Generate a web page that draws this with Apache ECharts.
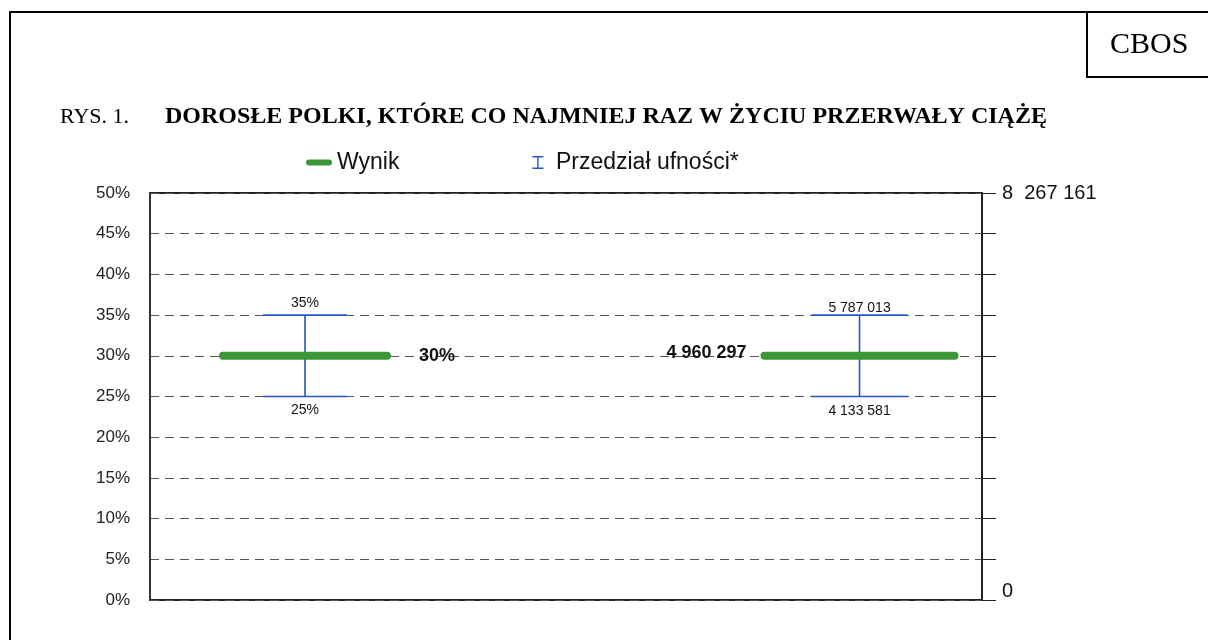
<!DOCTYPE html>
<html>
<head>
<meta charset="utf-8">
<script src="https://cdn.jsdelivr.net/npm/echarts@6/dist/echarts.min.js"></script>
<style>
html,body{margin:0;padding:0;background:#fff;}
#chart{width:1208px;height:640px;}
</style>
</head>
<body>
<div id="chart"></div>
<script>
// ---- DATA ----
const categories = ['Odsetek', 'Liczba'];
const results = [30, 4960297];
const lowerBounds = [25, 4133581];
const upperBounds = [35, 5787013];
const leftAxisMax = 50;
const leftAxisStep = 5;
const rightAxisMax = 8267161;
const rightTickLabels = ['0', '8  267 161'];
const legendNames = ['Wynik', 'Przedział ufności*'];
const titlePrefix = 'RYS. 1.';
const titleText = 'DOROSŁE POLKI, KTÓRE CO NAJMNIEJ RAZ W ŻYCIU PRZERWAŁY CIĄŻĘ';
const brand = 'CBOS';

// ---- LAYOUT / STYLE ----
const L = {
  centers: [0.1863, 0.8528],
  lineHalf: [82, 95],
  capHalf: [42, 48],
  green: '#3c9739',
  blue: '#2456c6',
  sans: '"Liberation Sans", Arial, sans-serif',
  serif: '"Liberation Serif", "Times New Roman", serif'
};

function fmtNum(n) { return String(n).replace(/\B(?=(\d{3})+(?!\d))/g, ' '); }
function fmtVal(i, v) { return i === 0 ? v + '%' : fmtNum(v); }

function resultSeries(i) {
  return {
    type: 'custom', name: legendNames[0], xAxisIndex: 0, yAxisIndex: i, z: 5,
    itemStyle: { color: L.green },
    data: [[categories[i], results[i]]],
    renderItem: function (params, api) {
      const cs = params.coordSys;
      const cx = cs.x + L.centers[i] * cs.width;
      const y = api.coord([api.value(0), api.value(1)])[1];
      const h = L.lineHalf[i];
      const label = fmtVal(i, results[i]);
      return {
        type: 'group', children: [
          { type: 'line', shape: { x1: cx - h, y1: y, x2: cx + h, y2: y },
            style: { stroke: L.green, lineWidth: 8, lineCap: 'round' } },
          { type: 'text', x: i === 0 ? cx + h + 32 : cx - h - 18, y: i === 0 ? y : y - 3,
            style: { text: label, font: 'bold 18px ' + L.sans, fill: '#111',
              align: i === 0 ? 'left' : 'right', verticalAlign: 'middle' } }
        ]
      };
    }
  };
}

function errorSeries(i) {
  return {
    type: 'custom', name: legendNames[1], xAxisIndex: 0, yAxisIndex: i, z: 4,
    itemStyle: { color: L.blue },
    data: [[categories[i], lowerBounds[i], upperBounds[i]]],
    renderItem: function (params, api) {
      const cs = params.coordSys;
      const cx = cs.x + L.centers[i] * cs.width;
      const yLo = api.coord([api.value(0), api.value(1)])[1];
      const yHi = api.coord([api.value(0), api.value(2)])[1];
      const c = L.capHalf[i];
      const st = { stroke: L.blue, lineWidth: 1.6 };
      return {
        type: 'group', children: [
          { type: 'line', shape: { x1: cx, y1: yHi, x2: cx, y2: yLo }, style: st },
          { type: 'line', shape: { x1: cx - c, y1: yHi, x2: cx + c, y2: yHi }, style: st },
          { type: 'line', shape: { x1: cx - c, y1: yLo, x2: cx + c, y2: yLo }, style: st },
          { type: 'text', x: cx, y: yHi - (i === 0 ? 12 : 7),
            style: { text: fmtVal(i, upperBounds[i]), font: '14px ' + L.sans, fill: '#111',
              align: 'center', verticalAlign: 'middle' } },
          { type: 'text', x: cx, y: yLo + (i === 0 ? 14 : 15),
            style: { text: fmtVal(i, lowerBounds[i]), font: '14px ' + L.sans, fill: '#111',
              align: 'center', verticalAlign: 'middle' } }
        ]
      };
    }
  };
}

const chart = echarts.init(document.getElementById('chart'), null, { renderer: 'canvas' });
chart.setOption({
  animation: false,
  backgroundColor: '#fff',
  grid: { left: 150, right: 226, top: 193, bottom: 40, show: true,
    borderColor: '#222', borderWidth: 2, backgroundColor: 'transparent' },
  legend: {
    left: 306, top: 151, padding: 0, itemWidth: 26, itemHeight: 13, itemGap: 133,
    textStyle: { fontFamily: L.sans, fontSize: 23, color: '#111' },
    data: [
      { name: legendNames[0], icon: 'path://M3,0H23A3,3 0 0 1 23,6H3A3,3 0 0 1 3,0Z', itemStyle: { color: L.green } },
      { name: legendNames[1], icon: 'path://M0,0H11V1.4H6.2V11.6H11V13H0V11.6H4.8V1.4H0Z', itemStyle: { color: L.blue } }
    ]
  },
  xAxis: { type: 'category', data: categories, show: false, boundaryGap: true },
  yAxis: [
    {
      type: 'value', min: 0, max: leftAxisMax, interval: leftAxisStep, position: 'left',
      axisLine: { show: true, lineStyle: { color: '#333', width: 2 } },
      axisTick: { show: false },
      axisLabel: { formatter: '{value}%', fontFamily: L.sans, fontSize: 17, color: '#222', margin: 20 },
      splitLine: { show: true, lineStyle: { color: '#555', width: 1, type: [9, 6] } }
    },
    {
      type: 'value', min: 0, max: rightAxisMax, interval: rightAxisMax / 10, position: 'right',
      axisLine: { show: true, lineStyle: { color: '#222', width: 2 } },
      axisTick: { show: true, inside: false, length: 14, lineStyle: { color: '#222', width: 1 } },
      axisLabel: {
        showMinLabel: true, showMaxLabel: true, margin: 20,
        fontFamily: L.sans, fontSize: 20, color: '#111',
        formatter: function (v) {
          if (Math.abs(v) < 1) return '{z|' + rightTickLabels[0] + '}';
          if (Math.abs(v - rightAxisMax) < 1) return rightTickLabels[1];
          return '';
        },
        rich: { z: { fontFamily: L.sans, fontSize: 20, color: '#111', padding: [0, 0, 18, 0] } }
      },
      splitLine: { show: false }
    }
  ],
  series: [errorSeries(0), errorSeries(1), resultSeries(0), resultSeries(1)],
  graphic: [
    { type: 'rect', shape: { x: 10, y: 11, width: 1200, height: 2 }, style: { fill: '#000' }, silent: true },
    { type: 'rect', shape: { x: 9, y: 11, width: 2, height: 640 }, style: { fill: '#000' }, silent: true },
    { type: 'rect', shape: { x: 1086, y: 11, width: 2, height: 67 }, style: { fill: '#000' }, silent: true },
    { type: 'rect', shape: { x: 1086, y: 76, width: 130, height: 2 }, style: { fill: '#000' }, silent: true },
    { type: 'text', x: 1110, y: 45, style: { text: brand, font: '30px ' + L.serif, fill: '#000', verticalAlign: 'middle' } },
    { type: 'text', x: 60, y: 117, style: { text: titlePrefix, font: '22px ' + L.serif, fill: '#000', verticalAlign: 'middle' } },
    { type: 'text', x: 165, y: 117, style: { text: titleText, font: 'bold 24px ' + L.serif, fill: '#000', verticalAlign: 'middle' } }
  ]
});
</script>
</body>
</html>
